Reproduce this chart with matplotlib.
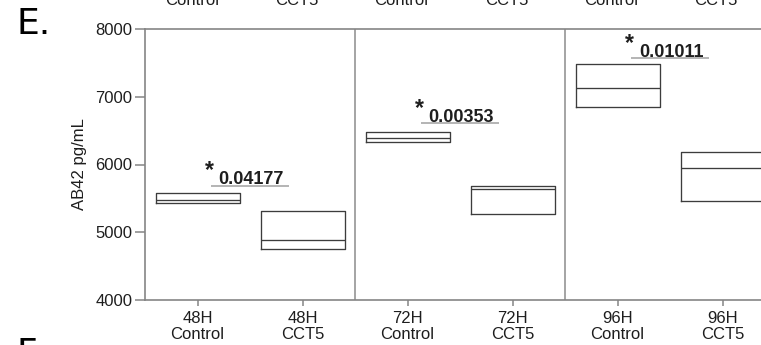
import matplotlib
matplotlib.use("Agg")
import matplotlib.pyplot as plt

# Abeta42 levels (pg/mL) per time point and treatment
groups = ["48H\nControl", "48H\nCCT5", "72H\nControl", "72H\nCCT5", "96H\nControl", "96H\nCCT5"]
q1 = [5427, 4757, 6336, 5265, 6853, 5461]
median = [5476, 4886, 6387, 5638, 7125, 5953]
q3 = [5575, 5309, 6484, 5683, 7479, 6189]

# pairwise Control vs CCT5 p-values and the level of their bracket line
p_values = ["0.04177", "0.00353", "0.01011"]
sig_level = [5690, 6610, 7570]

# second line of the tick labels of the panel above
upper_labels = ["Control", "CCT5", "Control", "CCT5", "Control", "CCT5"]

W, H = 761, 345
DPI = 100
plt.rcParams["font.family"] = ["Liberation Sans", "DejaVu Sans"]

fig = plt.figure(figsize=(W / DPI, H / DPI), dpi=DPI)
fig.patch.set_facecolor("white")

# axes: left spine at x=145 px, y range 29..300 px, one category = 105 px
ax_left, ax_top, ax_bottom = 145, 29, 300
unit = 105
ax = fig.add_axes([ax_left / W, (H - ax_bottom) / H, 6 * unit / W, (ax_bottom - ax_top) / H])

positions = list(range(1, len(groups) + 1))
stats = [
    dict(med=m, q1=a, q3=b, whislo=a, whishi=b, fliers=[])
    for a, m, b in zip(q1, median, q3)
]
box_color = "#3c3c3c"
ax.bxp(
    stats,
    positions=positions,
    widths=0.8,
    showcaps=False,
    showfliers=False,
    boxprops=dict(color=box_color, linewidth=0.95),
    medianprops=dict(color=box_color, linewidth=0.95),
    whiskerprops=dict(color=box_color, linewidth=0.95),
)

ax.set_xlim(0.5, 6.5)
ax.set_ylim(4000, 8000)
ax.set_yticks([4000, 5000, 6000, 7000, 8000])
ax.set_xticks(positions)
ax.set_xticklabels(groups)

spine_color = "#858585"
for s in ax.spines.values():
    s.set_color(spine_color)
    s.set_linewidth(1.2)

# time-point separators
for xv in (2.5, 4.5):
    ax.axvline(xv, color="#959595", linewidth=1.2)

ax.tick_params(axis="y", length=7, width=1.1, color=spine_color, pad=2,
               labelsize=12, labelcolor="#1e1e1e")
ax.tick_params(axis="x", length=4, width=1.1, color=spine_color, pad=4,
               labelsize=12, labelcolor="#1e1e1e")
for lab in ax.get_xticklabels():
    lab.set_linespacing(1.05)

ax.set_ylabel("AB42 pg/mL", fontsize=12, color="#1e1e1e")
ax.yaxis.set_label_coords(-58 / (6 * unit), 0.5)

# significance annotations: star, underlined p-value
for i, (p, lvl) in enumerate(zip(p_values, sig_level)):
    xc = positions[2 * i]
    ax.plot([xc + 0.13, xc + 0.87], [lvl, lvl], color="#a0a0a0", linewidth=1.1,
            solid_capstyle="butt")
    ax.text(xc + 0.51, lvl + 18, p, ha="center", va="baseline", fontsize=13,
            fontweight="bold", color="#1e1e1e")
    ax.text(xc + 0.115, lvl + 120, "*", ha="center", va="baseline", fontsize=16.5,
            fontweight="bold", color="#1e1e1e")

# panel letters
fig.text(17 / W, (H - 34.3) / H, "E.", fontsize=26, family="DejaVu Sans",
         ha="left", va="baseline", color="black")
fig.text(17 / W, (H - 364) / H, "F.", fontsize=26, family="DejaVu Sans",
         ha="left", va="baseline", color="black")

# tick label remnants of the panel above
for k, t in enumerate(upper_labels):
    fig.text((192 + k * 104.8) / W, (H - 5) / H, t, fontsize=12, ha="center",
             va="baseline", color="#1e1e1e")

fig.savefig("out.png", dpi=DPI, facecolor="white")
